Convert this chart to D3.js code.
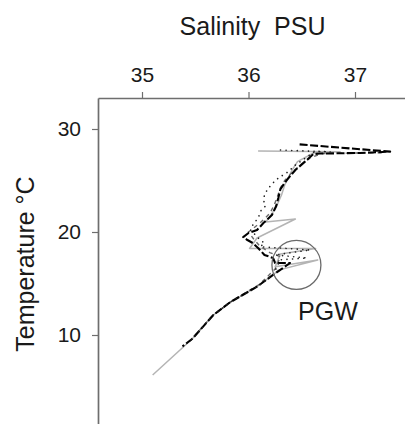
<!DOCTYPE html>
<html>
<head>
<meta charset="utf-8">
<script src="https://cdn.jsdelivr.net/npm/d3@7"></script>
<style>
  html, body { margin: 0; padding: 0; background: #fff; }
  svg { display: block; font-family: "Liberation Sans", Arial, sans-serif; }
</style>
</head>
<body>
<svg id="chart" width="405" height="424"></svg>
<script>
// T-S profiles, [salinity PSU, temperature C]
var greyProfile = [
  [36.09,27.86],[36.86,27.80],[36.61,27.67],[36.46,26.83],[36.41,26.02],[36.34,24.56],
  [36.31,23.59],[36.26,22.43],[36.20,21.46],[36.16,20.97],[36.44,21.26],[36.08,19.42],
  [36.01,18.40],[36.63,18.40],[36.30,17.86],[36.25,16.63],[36.65,17.28],[36.28,16.30],
  [36.23,15.83],[36.08,14.69],[35.83,13.20],[35.67,11.94],[35.47,9.61],[35.10,6.12]
];
var darkProfile = [
  [37.25,27.70],[36.95,27.66],[36.69,27.62],[36.58,27.20],[36.50,26.60],[36.42,25.90],
  [36.34,25.00],[36.30,24.30],[36.27,23.40],[36.24,22.60],[36.20,21.80],[36.12,21.00],
  [36.05,20.40],[36.00,20.00],[36.05,19.30],[36.10,18.70],[36.20,18.00],[36.30,17.60],
  [36.25,16.40],[36.10,14.90],[35.85,13.35],[35.65,11.75],[35.45,9.40]
];
var blackProfile = [
  [36.48,28.51],[37.33,27.80],[37.05,27.67],[36.67,27.62],[36.61,27.57],[36.53,26.83],
  [36.44,26.02],[36.36,25.05],[36.30,24.17],[36.28,23.30],[36.26,22.52],[36.22,21.65],
  [36.14,20.87],[36.08,20.19],[36.00,19.90],[35.95,19.51],[35.99,19.22],[36.04,18.93],
  [36.09,18.45],[36.15,17.77],[36.23,17.48],[36.25,16.99],[36.39,16.99],[36.23,15.83],
  [36.08,14.69],[35.83,13.20],[35.67,11.94],[35.47,9.61],[35.38,8.90]
];
var dottedProfile = [
  [36.30,27.96],[36.77,27.77],[36.63,27.86],[36.44,26.50],[36.37,25.83],[36.28,25.24],
  [36.23,24.76],[36.18,24.17],[36.15,23.59],[36.14,23.11],[36.16,22.52],[36.12,22.14],
  [36.09,21.36],[36.04,20.68],[36.02,20.19],[36.11,19.22],[36.15,18.93],[36.11,18.57],
  [36.58,18.25],[36.40,18.00],[36.25,17.77],[36.55,17.48],[36.30,17.30],[36.23,15.83],
  [36.08,14.69],[35.83,13.20],[35.67,11.94],[35.47,9.61],[35.40,9.00]
];
var salTicks = [35, 36, 37];
var tempTicks = [10, 20, 30];
// PGW water mass ring: centre salinity, centre temp, radius in PSU
var pgwRing = [36.45, 16.80, 0.23];
var pgwLabel = "PGW";

var svg = d3.select("#chart");

var x = d3.scaleLinear().domain([35, 37]).range([142, 355]);
x.domain([x.invert(98), x.invert(405)]).range([98, 405]);
var y = d3.scaleLinear().domain([30, 10]).range([129, 335]);
y.domain([y.invert(98), y.invert(424)]).range([98, 424]);

var line = d3.line().x(d => x(d[0])).y(d => y(d[1])).curve(d3.curveLinear);

// axes
var gx = svg.append("g").attr("transform", "translate(0,98)")
  .call(d3.axisTop(x).tickValues(salTicks).tickFormat(d3.format("d"))
    .tickSizeInner(6).tickSizeOuter(0).tickPadding(10));
var gy = svg.append("g").attr("transform", "translate(98,0)")
  .call(d3.axisLeft(y).tickValues(tempTicks).tickFormat(d3.format("d"))
    .tickSizeInner(6).tickSizeOuter(0).tickPadding(11));
[gx, gy].forEach(function(g){
  g.select(".domain").attr("stroke", "#6e6e6e").attr("stroke-width", 1.7);
  g.selectAll(".tick line").attr("stroke", "#6e6e6e").attr("stroke-width", 1.2);
  g.selectAll(".tick text").attr("fill", "#1a1a1a").style("font-size", "21px")
    .style("font-family", "'Liberation Sans', Arial, sans-serif");
});

svg.append("text")
  .attr("x", 252.5).attr("y", 35)
  .attr("text-anchor", "middle")
  .style("white-space", "pre")
  .style("font-size", "25px").attr("fill", "#1a1a1a")
  .text("Salinity  PSU");

svg.append("text")
  .attr("transform", "translate(34,264) rotate(-90)")
  .attr("text-anchor", "middle")
  .style("font-size", "25px").attr("fill", "#1a1a1a")
  .text("Temperature °C");

// profiles
svg.append("path").attr("d", line(greyProfile))
  .attr("fill", "none").attr("stroke", "#b4b4b4").attr("stroke-width", 1.5)
  .attr("stroke-linejoin", "round");
svg.append("path").attr("d", line(darkProfile))
  .attr("fill", "none").attr("stroke", "#6a6a6a").attr("stroke-width", 1.4)
  .attr("stroke-dasharray", "4,4");
svg.append("path").attr("d", line(blackProfile))
  .attr("fill", "none").attr("stroke", "#000").attr("stroke-width", 2.1)
  .attr("stroke-linejoin", "round").attr("stroke-dasharray", "8,2.5");
svg.append("path").attr("d", line(dottedProfile))
  .attr("fill", "none").attr("stroke", "#222").attr("stroke-width", 1.6)
  .attr("stroke-linecap", "round").attr("stroke-dasharray", "0.1,5.5");

// PGW ring
svg.append("circle")
  .attr("cx", x(pgwRing[0])).attr("cy", y(pgwRing[1]))
  .attr("r", x(pgwRing[0] + pgwRing[2]) - x(pgwRing[0]))
  .attr("fill", "none").attr("stroke", "#6a6a6a").attr("stroke-width", 1.3);

svg.append("text")
  .attr("x", x(36.465)).attr("y", y(11.45))
  .style("font-size", "25px").attr("fill", "#1a1a1a")
  .text(pgwLabel);
</script>
</body>
</html>
